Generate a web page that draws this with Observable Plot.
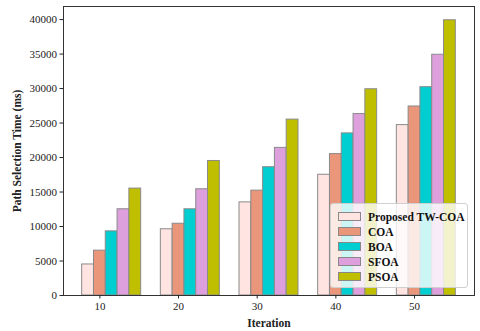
<!DOCTYPE html>
<html>
<head>
<meta charset="utf-8">
<script src="https://cdn.jsdelivr.net/npm/d3@7"></script>
<script src="https://cdn.jsdelivr.net/npm/@observablehq/plot@0.6"></script>
<style>
  html, body { margin: 0; padding: 0; background: #fff; }
  #wrap { position: relative; width: 480px; height: 331px; font-family: "Liberation Serif", "Times New Roman", serif; }
  #legend { position: absolute; left: 330px; top: 203px; width: 138px; height: 85px; box-sizing: border-box;
    background: rgba(255,255,255,0.8); border: 1px solid #d0d0d0; border-radius: 3px; padding: 5px 0 0 7px; }
  .item { display: flex; align-items: center; height: 15px; font-weight: bold; font-size: 11.5px; color: #111; }
  .sw { width: 23px; height: 9px; border: 1px solid #888; margin-right: 7px; box-sizing: border-box; }
</style>
</head>
<body>
<div id="wrap"></div>
<script>
const iterations = [10, 20, 30, 40, 50];
const seriesNames = ["Proposed TW-COA", "COA", "BOA", "SFOA", "PSOA"];
const seriesColors = ["#FFE4E1", "#E9967A", "#00CED1", "#DDA0DD", "#BFBF00"];
const proposed = [4500, 9600, 13500, 17500, 24700];
const coa = [6500, 10400, 15200, 20500, 27400];
const boa = [9300, 12500, 18600, 23500, 30200];
const sfoa = [12500, 15400, 21400, 26300, 34900];
const psoa = [15500, 19500, 25500, 29900, 39900];
const yTicks = [0, 5000, 10000, 15000, 20000, 25000, 30000, 35000, 40000];

const allSeries = [proposed, coa, boa, sfoa, psoa];
const barW = 1.5;
const rows = [];
allSeries.forEach((vals, k) => {
  vals.forEach((v, i) => {
    const c = iterations[i] + (k - 1) * barW;
    rows.push({series: seriesNames[k], x1: c - barW / 2, x2: c + barW / 2, y: v});
  });
});

const chart = Plot.plot({
  width: 480,
  height: 331,
  marginLeft: 63,
  marginRight: 6,
  marginTop: 6,
  marginBottom: 36,
  style: {fontFamily: "'Liberation Serif', 'Times New Roman', serif", fontSize: "11px", color: "#222", background: "#fff"},
  x: {domain: [5.375, 57.625]},
  y: {domain: [0, 41895]},
  color: {domain: seriesNames, range: seriesColors},
  marks: [
    Plot.rectY(rows, {x1: "x1", x2: "x2", y: "y", fill: "series", stroke: "#8a8a8a", strokeWidth: 1}),
    Plot.frame({stroke: "#333", strokeWidth: 1}),
    Plot.axisX({ticks: iterations, tickSize: 3.5, tickPadding: 3, fontSize: 11, label: "Iteration",
      labelArrow: "none", labelAnchor: "center", labelOffset: 31, tickFormat: d => String(d)}),
    Plot.axisY({ticks: yTicks, tickSize: 3.5, tickPadding: 3, fontSize: 11, label: "Path Selection Time (ms)",
      labelArrow: "none", labelAnchor: "center", labelOffset: 51, tickFormat: d => String(d)})
  ]
});
chart.querySelectorAll("g[aria-label='x-axis label'] text, g[aria-label='y-axis label'] text").forEach(t => {
  t.setAttribute("font-weight", "bold");
  t.setAttribute("font-size", "11.5");
  t.textContent = t.textContent.replace(/\s*[→↑←↓]\s*/g, "");
});
const wrap = document.getElementById("wrap");
wrap.appendChild(chart);

const legend = document.createElement("div");
legend.id = "legend";
seriesNames.forEach((name, k) => {
  const it = document.createElement("div");
  it.className = "item";
  const sw = document.createElement("div");
  sw.className = "sw";
  sw.style.background = seriesColors[k];
  const lab = document.createElement("span");
  lab.textContent = name;
  it.appendChild(sw);
  it.appendChild(lab);
  legend.appendChild(it);
});
wrap.appendChild(legend);
</script>
</body>
</html>
